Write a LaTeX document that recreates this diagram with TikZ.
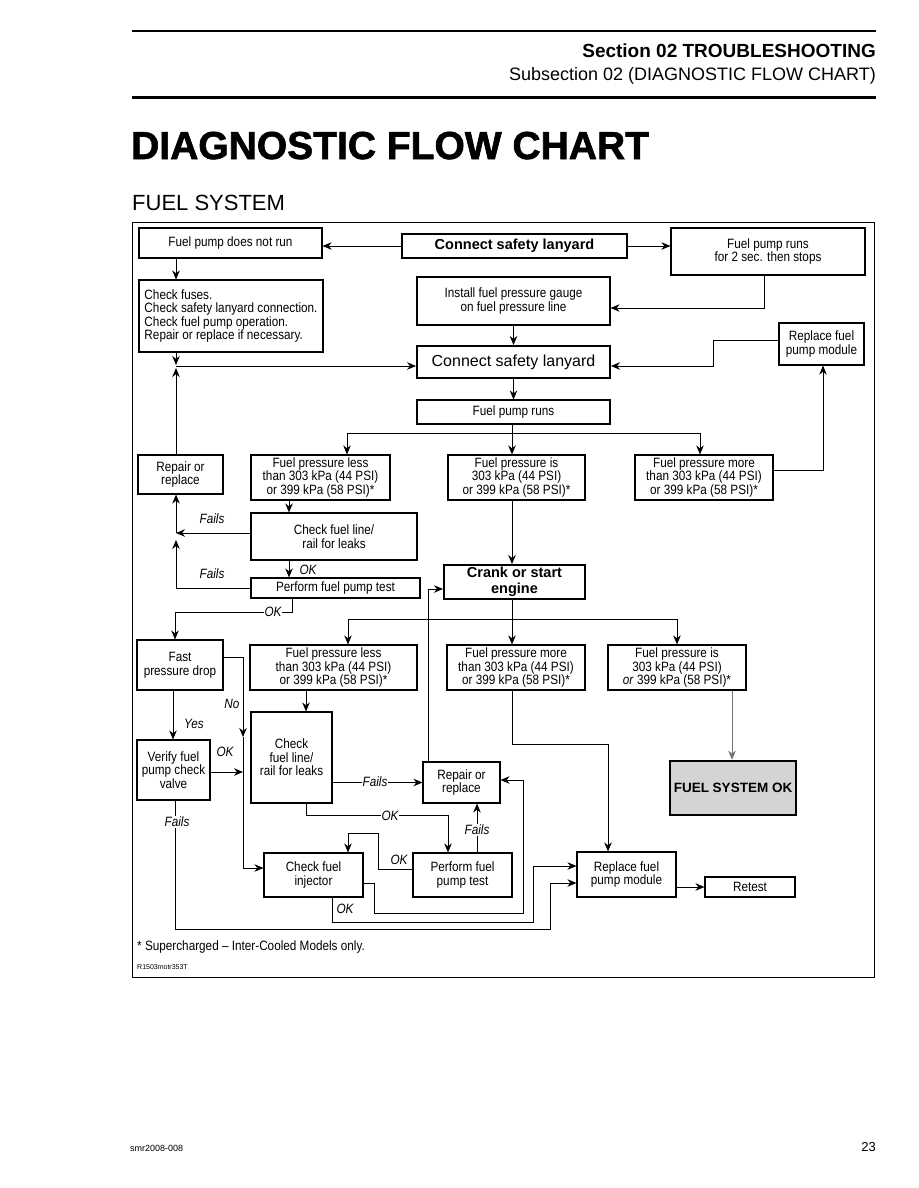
\documentclass[tikz,border=0pt]{standalone}
\usepackage{fontspec}
\setmainfont{Liberation Sans}
\newfontfamily\cond[FakeStretch=0.87]{Liberation Sans}
\newfontfamily\heavy[FakeBold=1.6]{Liberation Sans}
\usetikzlibrary{arrows.meta,calc}
\begin{document}
\begin{tikzpicture}[x=1pt,y=-1pt,
  box/.style={draw, line width=1.1pt, inner sep=0pt, align=center, font=\cond\fontsize{13.5}{13.5}\selectfont},
  bbox/.style={box, line width=2pt},
  arr/.style={line width=0.8pt, -{Stealth[length=9pt,width=7.5pt]}},
  ln/.style={line width=0.8pt},
  lab/.style={font=\cond\itshape\fontsize{13.5}{13.5}\selectfont, inner sep=1pt},
  labw/.style={lab, fill=white}]
\useasboundingbox (0,0) rectangle (918,1188);
\fill[white] (0,0) rectangle (918,1188);
% header
\draw[line width=1.8pt] (132,31) -- (876,31);
\node[anchor=base east, inner sep=0, font=\bfseries\fontsize{19}{19}\selectfont] (sec) at (876,58) {Section 02 TROUBLESHOOTING};
\node[anchor=base east, inner sep=0, font=\fontsize{18}{18}\selectfont] (subsec) at (876,81) {Subsection 02 (DIAGNOSTIC FLOW CHART)};
\draw[line width=3pt] (132,98) -- (876,98);
\node[anchor=base west, inner sep=0, font=\heavy\bfseries\fontsize{39}{39}\selectfont] (title) at (131,159) {DIAGNOSTIC FLOW CHART};
\node[anchor=base west, inner sep=0, font=\fontsize{22}{22}\selectfont] (fs) at (132,210) {FUEL SYSTEM};
% frame
\draw[line width=1pt] (132,222) rectangle (874,977);

% boxes
\node[box, minimum width=183pt, minimum height=30pt] (A) at (230.5,243) {Fuel pump does not run};
\node[bbox, minimum width=225pt, minimum height=24pt, font=\bfseries\fontsize{14.5}{15}\selectfont] (B) at (514.5,246) {Connect safety lanyard};
\node[box, minimum width=194pt, minimum height=47pt] (C) at (768,251.5) {Fuel pump runs\\for 2 sec. then stops};
\node[box, minimum width=184pt, minimum height=72pt, align=left] (D) at (231,316) {Check fuses.\\Check safety lanyard connection.\\Check fuel pump operation.\\Repair or replace if necessary.};
\node[box, minimum width=193pt, minimum height=48pt] (E) at (513.5,301) {Install fuel pressure gauge\\on fuel pressure line};
\node[bbox, minimum width=193pt, minimum height=32pt, font=\fontsize{16}{16}\selectfont] (F) at (513.5,362) {Connect safety lanyard};
\node[box, minimum width=85pt, minimum height=42pt] (G) at (821.5,344) {Replace fuel\\pump module};
\node[box, minimum width=85pt, minimum height=39pt] (H) at (180.5,474.5) {Repair or\\replace};
\node[box, minimum width=193pt, minimum height=24pt] (I) at (513.5,412) {Fuel pump runs};
\node[box, minimum width=139pt, minimum height=45pt] (J) at (320.5,477.5) {Fuel pressure less\\than 303 kPa (44 PSI)\\or 399 kPa (58 PSI)*};
\node[box, minimum width=137pt, minimum height=45pt] (K) at (516.5,477.5) {Fuel pressure is\\303 kPa (44 PSI)\\or 399 kPa (58 PSI)*};
\node[box, minimum width=138pt, minimum height=45pt] (L) at (704,477.5) {Fuel pressure more\\than 303 kPa (44 PSI)\\or 399 kPa (58 PSI)*};
\node[box, minimum width=166pt, minimum height=47pt] (M) at (334,536.5) {Check fuel line/\\rail for leaks};
\node[box, minimum width=169pt, minimum height=20pt] (N) at (335.5,588) {Perform fuel pump test};
\node[bbox, minimum width=141pt, minimum height=34pt, font=\bfseries\fontsize{14.5}{15.5}\selectfont] (P) at (514.5,582) {Crank or start\\engine};
\node[box, minimum width=86pt, minimum height=50pt] (O) at (180,665) {Fast\\pressure drop};
\node[box, minimum width=167pt, minimum height=45pt] (Q) at (333.5,667.5) {Fuel pressure less\\than 303 kPa (44 PSI)\\or 399 kPa (58 PSI)*};
\node[box, minimum width=138pt, minimum height=45pt] (R) at (516,667.5) {Fuel pressure more\\than 303 kPa (44 PSI)\\or 399 kPa (58 PSI)*};
\node[box, minimum width=138pt, minimum height=45pt] (S) at (677,667.5) {Fuel pressure is\\303 kPa (44 PSI)\\\textit{or} 399 kPa (58 PSI)*};
\node[box, line width=2.6pt, fill=black!17, minimum width=126pt, minimum height=54pt, font=\bfseries\fontsize{13.5}{14}\selectfont] (T) at (733,788) {FUEL SYSTEM OK};
\node[box, minimum width=73pt, minimum height=60pt] (Y) at (173.5,770) {Verify fuel\\pump check\\valve};
\node[box, minimum width=81pt, minimum height=91pt] (W) at (291.5,757.5) {Check\\fuel line/\\rail for leaks};
\node[box, minimum width=77pt, minimum height=41pt] (X) at (461.5,782.5) {Repair or\\replace};
\node[box, minimum width=99pt, minimum height=44pt] (Z) at (313.5,875) {Check fuel\\injector};
\node[box, minimum width=99pt, minimum height=44pt] (AA) at (462.5,875) {Perform fuel\\pump test};
\node[box, minimum width=99pt, minimum height=45pt] (U) at (626.5,874.5) {Replace fuel\\pump module};
\node[box, minimum width=90pt, minimum height=20pt] (V) at (750,887) {Retest};

% coordinates
\coordinate (Lcol) at (176,0);
\coordinate (c1) at (764,308);
\coordinate (g1) at (713,340);
\coordinate (g2) at (713,366);
\coordinate (j1) at (176,366);
\coordinate (b1l) at (347,433);
\coordinate (b1m) at (512,433);
\coordinate (b1r) at (700,433);
\coordinate (l1) at (823,470);
\coordinate (jm) at (289,0);
\coordinate (h1) at (176,533);
\coordinate (h2) at (176,588);
\coordinate (h3) at (176,540);
\coordinate (n1) at (292,612);
\coordinate (n2) at (175,612);
\coordinate (p0) at (348,619);
\coordinate (p1) at (512,619);
\coordinate (p2) at (677,619);
\coordinate (st) at (732,0);
\coordinate (r1) at (512,744);
\coordinate (r2) at (608,744);
\coordinate (oy) at (173,0);
\coordinate (o1) at (243,657);
\coordinate (o3) at (243,737);
\coordinate (o2) at (243,868);
\coordinate (y1) at (243,772);
\coordinate (qw) at (306,0);
\coordinate (x1) at (428,589);
\coordinate (w1) at (306,815);
\coordinate (w2) at (448,815);
\coordinate (ax) at (477,0);
\coordinate (a1) at (378,869);
\coordinate (a2) at (378,833);
\coordinate (a3) at (348,833);
\coordinate (z1) at (374,883);
\coordinate (z2) at (374,913);
\coordinate (z3) at (523,913);
\coordinate (z4) at (523,780);
\coordinate (zz1) at (332,922);
\coordinate (zz2) at (533,922);
\coordinate (zz3) at (533,866);
\coordinate (yy1) at (175,929);
\coordinate (yy2) at (550,929);
\coordinate (yy3) at (550,883);

% connectors
\draw[arr] (B.west) -- (A.east |- B.west);
\draw[arr] (B.east) -- (C.west |- B.east);
\draw[arr] (A.south -| Lcol) -- (D.north -| Lcol);
\draw[arr] (C.south -| c1) -- (c1) -- (E.east |- c1);
\draw[arr] (E.south) -- (F.north);
\draw[arr] (G.west |- g1) -- (g1) -- (g2) -- (F.east |- g2);
\draw[arr] (D.south -| j1) -- ($(j1)+(0,-1)$);
\draw[arr] (j1) -- (F.west |- j1);
\draw[arr] (H.north -| j1) -- ($(j1)+(0,2)$);
\draw[arr] (F.south) -- (I.north);
\draw[ln] (I.south -| b1m) -- (b1m);
\draw[ln] (b1l) -- (b1r);
\draw[arr] (b1l) -- (J.north -| b1l);
\draw[arr] (b1m) -- (K.north -| b1m);
\draw[arr] (b1r) -- (L.north -| b1r);
\draw[arr] (L.east |- l1) -- (l1) -- (G.south -| l1);
\draw[arr] (K.south -| b1m) -- (P.north -| b1m);
\draw[arr] (J.south -| jm) -- (M.north -| jm);
\draw[arr] (M.south -| jm) -- (N.north -| jm);
\node[lab] (okmn) at (308,570) {OK};
\draw[arr] (M.west |- h1) -- (h1);
\draw[arr] (h1) -- (H.south -| h1);
\node[lab] (f1) at (212,519) {Fails};
\draw[arr] (N.west |- h2) -- (h2) -- (h3);
\node[lab] (f2) at (212,574) {Fails};
\draw[arr] (N.south -| n1) -- (n1) -- (n2) -- (O.north -| n2);
\node[labw] (okno) at (273,612) {OK};
\draw[ln] (P.south -| p1) -- (p1);
\draw[ln] (p0) -- (p2);
\draw[arr] (p0) -- (Q.north -| p0);
\draw[arr] (p1) -- (R.north -| p1);
\draw[arr] (p2) -- (S.north -| p2);
\draw[arr, black!55] (S.south -| st) -- (T.north -| st);
\draw[arr] (R.south -| r1) -- (r1) -- (r2) -- (U.north -| r2);
\draw[arr] (U.east |- V.west) -- (V.west);
\draw[arr] (O.south -| oy) -- (Y.north -| oy);
\node[lab] (yes) at (194,724) {Yes};
\draw[arr] (O.east |- o1) -- (o1) -- (o3);
\draw[arr] (o3) -- (o2) -- (Z.west |- o2);
\node[lab] (no) at (232,704) {No};
\draw[arr] (Y.east |- y1) -- (y1);
\node[lab] (oky) at (225,752) {OK};
\draw[arr] (Q.south -| qw) -- (W.north -| qw);
\draw[arr] (W.east |- X.west) -- (X.west);
\node[labw] (f3) at (375,782) {Fails};
\draw[arr] (X.north -| x1) -- (x1) -- (P.west |- x1);
\draw[arr] (W.south -| w1) -- (w1) -- (w2) -- (AA.north -| w2);
\node[labw] (okw) at (390,816) {OK};
\draw[arr] (AA.north -| ax) -- (X.south -| ax);
\node[labw] (f4) at (477,830) {Fails};
\draw[arr] (AA.west |- a1) -- (a1) -- (a2) -- (a3) -- (Z.north -| a3);
\node[lab] (oka) at (399,860) {OK};
\draw[arr] (Z.east |- z1) -- (z1) -- (z2) -- (z3) -- (z4) -- (X.east |- z4);
\draw[arr] (Z.south -| zz1) -- (zz1) -- (zz2) -- (zz3) -- (U.west |- zz3);
\node[lab] (okz) at (345,909) {OK};
\draw[arr] (Y.south -| yy1) -- (yy1) -- (yy2) -- (yy3) -- (U.west |- yy3);
\node[labw] (f5) at (177,822) {Fails};

% footnotes
\node[anchor=base west, inner sep=0, font=\cond\fontsize{13.5}{13.5}\selectfont] (fn) at (137,950) {* Supercharged – Inter-Cooled Models only.};
\node[anchor=base west, inner sep=0, font=\fontsize{7}{7}\selectfont] (ref) at (137,969) {R1503motr353T};
\node[anchor=base west, inner sep=0, font=\fontsize{9}{9}\selectfont] (smr) at (130,1151) {smr2008-008};
\node[anchor=base east, inner sep=0, font=\fontsize{13}{13}\selectfont] (pg) at (876,1151) {23};
\end{tikzpicture}
\end{document}
